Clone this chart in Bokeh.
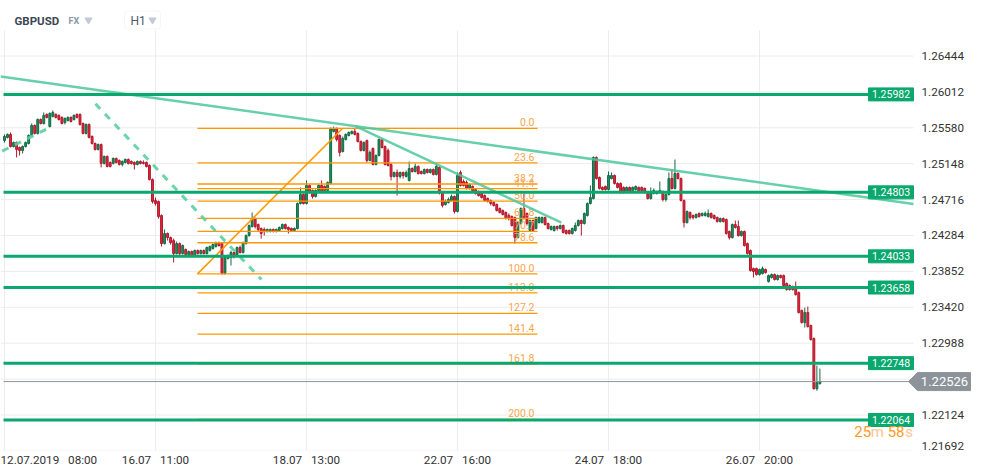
from bokeh.plotting import figure
from bokeh.models import ColumnDataSource, FixedTicker, BoxAnnotation
from bokeh.core.properties import value
from bokeh.embed import file_html
from bokeh.resources import INLINE

# ---------------- data (GBPUSD, H1) ----------------
opens = [
1.25427,1.25464,1.25500,1.25355,1.25403,1.25343,1.25307,1.25355,1.25391,1.25488,
1.25608,1.25512,1.25680,1.25632,1.25741,1.25596,1.25717,1.25741,1.25729,1.25705,
1.25644,1.25668,1.25705,1.25680,1.25741,1.25741,1.25632,1.25512,1.25620,1.25476,
1.25391,1.25319,1.25379,1.25151,1.25235,1.25163,1.25151,1.25211,1.25187,1.25139,
1.25163,1.25199,1.25175,1.25163,1.25139,1.25175,1.25163,1.25163,1.25127,1.24958,
1.24705,1.24693,1.24525,1.24187,1.24308,1.24259,1.24223,1.24067,1.24187,1.24067,
1.24115,1.24055,1.24091,1.24043,1.24103,1.24067,1.24103,1.24067,1.24103,1.24127,
1.24151,1.24199,1.24187,1.23826,1.24007,1.24019,1.24079,1.24055,1.24139,1.24079,
1.24187,1.24283,1.24392,1.24488,1.24416,1.24368,1.24356,1.24332,1.24332,1.24356,
1.24332,1.24344,1.24368,1.24416,1.24380,1.24368,1.24344,1.24368,1.24669,1.24777,
1.24669,1.24886,1.24825,1.24753,1.24825,1.24886,1.24874,1.24825,1.24910,1.25536,
1.25572,1.25488,1.25295,1.25439,1.25488,1.25512,1.25536,1.25512,1.25415,1.25307,
1.25427,1.25187,1.25331,1.25139,1.25247,1.25439,1.25355,1.25307,1.25139,1.24994,
1.25042,1.24994,1.25042,1.24994,1.24946,1.25090,1.25054,1.25115,1.25054,1.25030,
1.25078,1.25042,1.25078,1.25018,1.25103,1.24801,1.24657,1.24681,1.24705,1.24753,
1.24573,1.25042,1.24934,1.24922,1.24850,1.24874,1.24837,1.24813,1.24789,1.24765,
1.24729,1.24705,1.24681,1.24657,1.24609,1.24585,1.24561,1.24525,1.24512,1.24500,
1.24259,1.24428,1.24609,1.24549,1.24344,1.24464,1.24368,1.24440,1.24440,1.24500,
1.24428,1.24356,1.24344,1.24392,1.24368,1.24404,1.24344,1.24344,1.24308,1.24344,
1.24404,1.24464,1.24428,1.24525,1.24669,1.24729,1.25223,1.24982,1.24862,1.24874,
1.24837,1.24970,1.25006,1.24910,1.24910,1.24862,1.24813,1.24862,1.24825,1.24837,
1.24862,1.24862,1.24850,1.24789,1.24729,1.24789,1.24789,1.24801,1.24813,1.24717,
1.24777,1.24970,1.24850,1.25030,1.24970,1.24705,1.24440,1.24561,1.24525,1.24500,
1.24549,1.24525,1.24525,1.24512,1.24549,1.24525,1.24500,1.24452,1.24488,1.24476,
1.24332,1.24259,1.24416,1.24392,1.24283,1.24332,1.24187,1.24103,1.23886,1.23886,
1.23814,1.23826,1.23874,1.23730,1.23778,1.23814,1.23754,1.23802,1.23802,1.23706,
1.23682,1.23669,1.23669,1.23597,1.23381,1.23236,1.23357,1.23200,1.23044,1.22441,
1.22502]
highs = [
1.25500,1.25512,1.25524,1.25415,1.25415,1.25355,1.25367,1.25415,1.25500,1.25632,
1.25620,1.25692,1.25692,1.25765,1.25753,1.25765,1.25789,1.25753,1.25741,1.25717,
1.25705,1.25717,1.25717,1.25741,1.25753,1.25753,1.25644,1.25632,1.25632,1.25488,
1.25403,1.25391,1.25391,1.25247,1.25247,1.25175,1.25223,1.25223,1.25199,1.25187,
1.25211,1.25211,1.25187,1.25175,1.25187,1.25187,1.25187,1.25175,1.25139,1.24970,
1.24741,1.24705,1.24537,1.24356,1.24320,1.24271,1.24247,1.24211,1.24199,1.24175,
1.24127,1.24103,1.24103,1.24115,1.24115,1.24115,1.24115,1.24151,1.24163,1.24187,
1.24211,1.24211,1.24199,1.24031,1.24055,1.24103,1.24091,1.24151,1.24163,1.24211,
1.24295,1.24416,1.24561,1.24500,1.24428,1.24380,1.24380,1.24368,1.24368,1.24368,
1.24368,1.24392,1.24428,1.24428,1.24392,1.24380,1.24380,1.24681,1.24862,1.24789,
1.24946,1.24898,1.24837,1.24837,1.24898,1.24946,1.24886,1.24934,1.25584,1.25596,
1.25584,1.25500,1.25476,1.25512,1.25536,1.25548,1.25572,1.25524,1.25427,1.25415,
1.25439,1.25307,1.25343,1.25259,1.25451,1.25451,1.25367,1.25331,1.25151,1.25054,
1.25078,1.25054,1.25054,1.25066,1.25175,1.25103,1.25151,1.25127,1.25066,1.25090,
1.25090,1.25090,1.25090,1.25139,1.25115,1.24813,1.24717,1.24741,1.24777,1.24765,
1.25042,1.25066,1.24958,1.24946,1.24910,1.24886,1.24850,1.24825,1.24801,1.24777,
1.24741,1.24717,1.24693,1.24669,1.24621,1.24597,1.24573,1.24549,1.24525,1.24512,
1.24452,1.24621,1.24789,1.24561,1.24476,1.24476,1.24512,1.24512,1.24512,1.24512,
1.24440,1.24404,1.24404,1.24404,1.24416,1.24416,1.24356,1.24356,1.24380,1.24440,
1.24476,1.24476,1.24561,1.24681,1.24886,1.25235,1.25235,1.24994,1.24874,1.24886,
1.25054,1.25042,1.25018,1.24922,1.24922,1.24874,1.24874,1.24874,1.24874,1.24886,
1.24874,1.24874,1.24862,1.24801,1.24862,1.24850,1.24825,1.24934,1.24825,1.24789,
1.25042,1.25078,1.25199,1.25042,1.24982,1.24717,1.24585,1.24573,1.24537,1.24549,
1.24561,1.24561,1.24573,1.24597,1.24561,1.24537,1.24512,1.24500,1.24500,1.24488,
1.24344,1.24428,1.24464,1.24464,1.24344,1.24344,1.24199,1.24115,1.23898,1.23898,
1.23886,1.23910,1.23886,1.23814,1.23826,1.23826,1.23814,1.23814,1.23814,1.23718,
1.23694,1.23682,1.23730,1.23609,1.23393,1.23417,1.23429,1.23212,1.23056,1.22718,
1.22682]
lows = [
1.25403,1.25452,1.25343,1.25343,1.25223,1.25247,1.25271,1.25343,1.25379,1.25476,
1.25500,1.25500,1.25620,1.25620,1.25692,1.25584,1.25705,1.25692,1.25668,1.25620,
1.25620,1.25656,1.25644,1.25668,1.25692,1.25608,1.25500,1.25500,1.25452,1.25379,
1.25307,1.25307,1.25103,1.25139,1.25103,1.25103,1.25139,1.25151,1.25127,1.25115,
1.25151,1.25139,1.25139,1.25078,1.25127,1.25139,1.25139,1.25103,1.24946,1.24669,
1.24645,1.24488,1.24151,1.24175,1.24223,1.24175,1.23959,1.24055,1.24043,1.24055,
1.24031,1.24043,1.24031,1.24031,1.24055,1.24055,1.24055,1.24055,1.24091,1.24115,
1.24139,1.24151,1.23814,1.23814,1.23995,1.23923,1.24007,1.24043,1.24067,1.24067,
1.24175,1.24271,1.24380,1.24368,1.24332,1.24247,1.24283,1.24320,1.24320,1.24320,
1.24320,1.24332,1.24356,1.24356,1.24308,1.24332,1.24332,1.24356,1.24657,1.24657,
1.24657,1.24789,1.24729,1.24741,1.24813,1.24801,1.24801,1.24813,1.24898,1.25524,
1.25415,1.25235,1.25283,1.25427,1.25476,1.25500,1.25488,1.25403,1.25295,1.25295,
1.25163,1.25175,1.25127,1.25127,1.25235,1.25331,1.25127,1.25115,1.24946,1.24982,
1.24765,1.24970,1.24970,1.24982,1.24934,1.25042,1.25042,1.25018,1.25018,1.25018,
1.25030,1.25030,1.25006,1.25006,1.24777,1.24621,1.24645,1.24669,1.24693,1.24549,
1.24561,1.24874,1.24874,1.24837,1.24837,1.24813,1.24777,1.24753,1.24729,1.24693,
1.24681,1.24645,1.24633,1.24573,1.24549,1.24525,1.24476,1.24464,1.24392,1.24187,
1.24247,1.24416,1.24476,1.24404,1.24332,1.24332,1.24356,1.24428,1.24428,1.24404,
1.24356,1.24344,1.24332,1.24344,1.24356,1.24308,1.24295,1.24295,1.24295,1.24332,
1.24392,1.24283,1.24416,1.24512,1.24657,1.24717,1.24958,1.24837,1.24825,1.24825,
1.24825,1.24958,1.24898,1.24850,1.24789,1.24789,1.24801,1.24801,1.24813,1.24825,
1.24801,1.24813,1.24789,1.24717,1.24717,1.24777,1.24777,1.24789,1.24693,1.24693,
1.24765,1.24837,1.24837,1.24958,1.24693,1.24380,1.24428,1.24476,1.24476,1.24488,
1.24500,1.24512,1.24512,1.24500,1.24488,1.24476,1.24440,1.24440,1.24440,1.24295,
1.24235,1.24247,1.24368,1.24271,1.24271,1.24151,1.24055,1.23850,1.23778,1.23802,
1.23802,1.23814,1.23826,1.23718,1.23766,1.23742,1.23742,1.23766,1.23669,1.23621,
1.23621,1.23621,1.23561,1.23345,1.23224,1.23176,1.23176,1.23019,1.22429,1.22417,
1.22490]
closes = [
1.25476,1.25500,1.25355,1.25403,1.25319,1.25307,1.25355,1.25403,1.25488,1.25608,
1.25512,1.25680,1.25632,1.25729,1.25705,1.25753,1.25765,1.25705,1.25680,1.25632,
1.25692,1.25705,1.25656,1.25729,1.25705,1.25620,1.25512,1.25620,1.25464,1.25391,
1.25319,1.25379,1.25151,1.25235,1.25115,1.25115,1.25211,1.25163,1.25139,1.25175,
1.25199,1.25151,1.25151,1.25139,1.25175,1.25151,1.25151,1.25115,1.24958,1.24693,
1.24669,1.24512,1.24187,1.24308,1.24259,1.24199,1.24067,1.24187,1.24067,1.24163,
1.24055,1.24091,1.24043,1.24103,1.24067,1.24103,1.24067,1.24139,1.24151,1.24175,
1.24199,1.24163,1.23826,1.24019,1.24043,1.24079,1.24043,1.24139,1.24079,1.24199,
1.24283,1.24404,1.24488,1.24392,1.24356,1.24308,1.24332,1.24356,1.24356,1.24332,
1.24356,1.24380,1.24416,1.24368,1.24356,1.24344,1.24368,1.24669,1.24777,1.24669,
1.24886,1.24801,1.24753,1.24825,1.24886,1.24813,1.24825,1.24922,1.25572,1.25572,
1.25439,1.25283,1.25451,1.25500,1.25524,1.25536,1.25500,1.25415,1.25307,1.25403,
1.25187,1.25283,1.25139,1.25247,1.25439,1.25343,1.25139,1.25127,1.24994,1.25042,
1.24994,1.25042,1.25006,1.25042,1.25090,1.25054,1.25115,1.25030,1.25030,1.25078,
1.25042,1.25078,1.25018,1.25115,1.24801,1.24645,1.24693,1.24717,1.24753,1.24573,
1.25006,1.24886,1.24886,1.24850,1.24898,1.24825,1.24789,1.24765,1.24741,1.24705,
1.24693,1.24669,1.24645,1.24585,1.24561,1.24537,1.24488,1.24488,1.24404,1.24259,
1.24440,1.24609,1.24488,1.24428,1.24464,1.24344,1.24500,1.24500,1.24500,1.24416,
1.24368,1.24392,1.24392,1.24368,1.24404,1.24320,1.24308,1.24308,1.24368,1.24404,
1.24464,1.24428,1.24549,1.24669,1.24741,1.25223,1.24970,1.24850,1.24837,1.24837,
1.25006,1.25006,1.24910,1.24862,1.24801,1.24801,1.24862,1.24813,1.24862,1.24874,
1.24813,1.24825,1.24801,1.24729,1.24789,1.24825,1.24813,1.24825,1.24717,1.24777,
1.24970,1.24850,1.25030,1.24970,1.24705,1.24440,1.24573,1.24500,1.24500,1.24537,
1.24512,1.24549,1.24549,1.24549,1.24500,1.24488,1.24452,1.24488,1.24452,1.24308,
1.24259,1.24416,1.24380,1.24283,1.24332,1.24163,1.24067,1.23862,1.23850,1.23814,
1.23874,1.23886,1.23838,1.23802,1.23814,1.23754,1.23802,1.23778,1.23682,1.23633,
1.23633,1.23633,1.23573,1.23357,1.23236,1.23357,1.23188,1.23032,1.22441,1.22514,
1.22526]

x_tick_bars = [0, 50, 100, 150, 200, 250]
x_tick_labels = ["12.07.2019\u2002\u00a008:00", "16.07\u2002\u00a011:00", "18.07\u2002\u00a013:00",
                 "22.07\u2002\u00a016:00", "24.07\u2002\u00a018:00", "26.07\u2002\u00a020:00"]
y_ticks = [1.21692, 1.22124, 1.22556, 1.22988, 1.23420, 1.23852,
           1.24284, 1.24716, 1.25148, 1.25580, 1.26012, 1.26444]

levels = [1.25982, 1.24803, 1.24033, 1.23658, 1.22748, 1.22064]
last_price = 1.22526

fib_ratios = [0.0, 23.6, 38.2, 41.4, 50.0, 61.8, 70.7, 78.6, 100.0, 113.0, 127.2, 141.4, 161.8, 200.0]
fib_high = 1.25572
fib_low = 1.23822
fib_bars = [63.9, 176.5]
fib_diag_bars = [63.9, 111.9]

trend_long_bars = [-1.32, 301.0]
trend_long_prices = [1.26196, 1.24664]
trend_short_bars = [116.2, 184.4]
trend_short_prices = [1.25601, 1.24438]
dash1_bars = [-0.76, 14.1]
dash1_prices = [1.25299, 1.25568]
dash2_bars = [30.1, 85.1]
dash2_prices = [1.25869, 1.23754]

symbol, market, timeframe = "GBPUSD", "FX", "H1"
countdown = [("25", "#ff9a1f"), ("m", "#f9c68e"), ("58", "#ff9a1f"), ("s", "#f9c68e")]

# ---------------- layout helpers (page pixels -> data) ----------------
FONT = "Roboto"
PX_PER_BAR = 3.02
X0_PX = 4.0
PX_PER_PRICE = 8310.0
YREF_PRICE, YREF_PX = 1.26444, 55.5
FRAME_W, FRAME_H = 975, 450
PLOT_RIGHT_PX = 913


def px_x(px):
    return (px - X0_PX) / PX_PER_BAR


def py_y(py):
    return YREF_PRICE - (py - YREF_PX) / PX_PER_PRICE


X_LO, X_HI = px_x(0), px_x(FRAME_W)
Y_LO, Y_HI = py_y(FRAME_H), py_y(0)
X_PLOT_R = px_x(PLOT_RIGHT_PX)

GREEN = "#0aa86e"
ORANGE = "#ff9800"
TEAL = "#4cc79b"

p = figure(frame_width=FRAME_W, frame_height=FRAME_H,
           x_range=(X_LO, X_HI), y_range=(Y_LO, Y_HI), y_axis_location=None,
           output_backend="svg", toolbar_location=None,
           min_border_left=0, min_border_top=0, min_border_right=0, min_border_bottom=0)
p.outline_line_color = None
p.background_fill_color = "white"
p.border_fill_color = "white"
p.grid.visible = False

# x axis (real axis)
p.xaxis.ticker = FixedTicker(ticks=x_tick_bars)
p.xaxis.major_label_overrides = {b: t for b, t in zip(x_tick_bars, x_tick_labels)}
p.xaxis.major_label_text_align = "left"
p.xaxis.axis_line_color = None
p.xaxis.major_tick_line_color = None
p.xaxis.minor_tick_line_color = None
p.xaxis.major_tick_out = 0
p.xaxis.major_tick_in = 0
p.xaxis.major_label_text_font = FONT
p.xaxis.major_label_text_color = "#333333"
p.xaxis.major_label_text_font_size = "11.7px"
p.xaxis.major_label_standoff = 2

# grid lines (plot area ends where the price scale begins)
p.segment(x0=X_LO, x1=X_PLOT_R, y0=y_ticks, y1=y_ticks, line_color="#ececec", line_width=1)
p.segment(x0=x_tick_bars, x1=x_tick_bars, y0=Y_LO, y1=py_y(30), line_color="#ececec", line_width=1)

# price scale labels (the lowest one is kept inside the chart, as the source does)
label_floor = py_y(FRAME_H - 4.5)
p.text(x=px_x(921), y=[max(t, label_floor) for t in y_ticks], text=[f"{t:.5f}" for t in y_ticks],
       text_align="left", text_baseline="middle", text_font=value(FONT),
       text_font_size="11.7px", text_color="#333333")

# candles
idx = list(range(len(closes)))


def candle_source(ids):
    return ColumnDataSource(dict(
        x=ids,
        hi=[highs[i] for i in ids], lo=[lows[i] for i in ids],
        top=[max(opens[i], closes[i]) for i in ids],
        bot=[min(opens[i], closes[i]) for i in ids]))


up_src = candle_source([i for i in idx if closes[i] >= opens[i]])
dn_src = candle_source([i for i in idx if closes[i] < opens[i]])
for s, fill, edge in ((up_src, "#1f8f5f", "#126b45"), (dn_src, "#e4283c", "#b0192c")):
    p.segment(x0="x", x1="x", y0="lo", y1="hi", source=s, line_color=edge, line_width=1)
    p.vbar(x="x", width=0.62, top="top", bottom="bot", source=s,
           fill_color=fill, line_color=edge, line_width=1)

# fibonacci
fib_prices = [fib_high - r / 100.0 * (fib_high - fib_low) for r in fib_ratios]
p.segment(x0=fib_bars[0], x1=fib_bars[1], y0=fib_prices, y1=fib_prices,
          line_color=ORANGE, line_width=1.3)
p.line(x=fib_diag_bars, y=[fib_low, fib_high], line_color=ORANGE, line_width=1.6)
p.text(x=fib_bars[1] - 1.0, y=fib_prices, text=[f"{r:.1f}" for r in fib_ratios],
       text_align="right", text_baseline="bottom", y_offset=-2,
       text_font=value(FONT), text_font_size="10.5px", text_color="#f7a64a")

# trend lines
p.line(x=trend_long_bars, y=trend_long_prices, line_color=TEAL, line_width=2.5, line_alpha=0.85)
p.line(x=trend_short_bars, y=trend_short_prices, line_color=TEAL, line_width=2.5, line_alpha=0.85)
for bx, by in ((dash1_bars, dash1_prices), (dash2_bars, dash2_prices)):
    p.line(x=bx, y=by, line_color="#5ccfa4", line_width=3, line_alpha=0.9, line_dash="7 7")

# horizontal levels + current price line
p.segment(x0=px_x(3), x1=X_PLOT_R, y0=levels, y1=levels, line_color=GREEN, line_width=3)
p.segment(x0=px_x(3), x1=X_PLOT_R, y0=last_price, y1=last_price, line_color="#8d949b", line_width=1)
tag_x = px_x(890.5)
p.rect(x=tag_x, y=levels, width=45, height=13, width_units="screen", height_units="screen",
       fill_color=GREEN, line_color=GREEN)
p.text(x=tag_x, y=levels, text=[f"{v:.5f}" for v in levels], text_align="center",
       text_baseline="middle", text_font=value(FONT), text_font_size="10.5px", text_color="white")

# current price tag
hh = 9.0 / PX_PER_PRICE
p.patch(x=[px_x(908), px_x(917), px_x(970), px_x(970), px_x(917)],
        y=[last_price, last_price + hh, last_price + hh, last_price - hh, last_price - hh],
        fill_color="#8c9399", line_color="#8c9399")
p.text(x=px_x(944), y=last_price, text=[f"{last_price:.5f}"], text_align="center",
       text_baseline="middle", text_font=value(FONT), text_font_size="13px", text_color="white")

# countdown
right_edges = [870.7, 883.5, 904.0, 912.5]
for (txt, col), rx in zip(countdown, right_edges):
    p.text(x=px_x(rx), y=py_y(431), text=[txt], text_align="right", text_baseline="middle",
           text_font=value(FONT), text_font_size="15px", text_color=col)

# header
p.add_layout(BoxAnnotation(left=px_x(124), right=px_x(160), top=py_y(10.5), bottom=py_y(28.5),
                           fill_alpha=0, line_color="#dde1e6", line_width=1, border_radius=3))
p.text(x=px_x(14), y=py_y(20), text=[symbol], text_align="left", text_baseline="middle",
       text_font=value(FONT), text_font_size="11.5px", text_font_style="bold", text_color="#3c4654")
p.text(x=px_x(68), y=py_y(20.5), text=[market], text_align="left", text_baseline="middle",
       text_font=value(FONT), text_font_size="9px", text_font_style="bold", text_color="#8796a5")
p.text(x=px_x(130), y=py_y(20), text=[timeframe], text_align="left", text_baseline="middle",
       text_font=value(FONT), text_font_size="12px", text_color="#4d5866")
p.scatter(x=[px_x(88), px_x(152)], y=[py_y(19.5), py_y(19.5)], marker="inverted_triangle",
          size=7, fill_color="#c3cad1", line_color="#c3cad1")

open("out.html", "w").write(file_html(p, INLINE))
